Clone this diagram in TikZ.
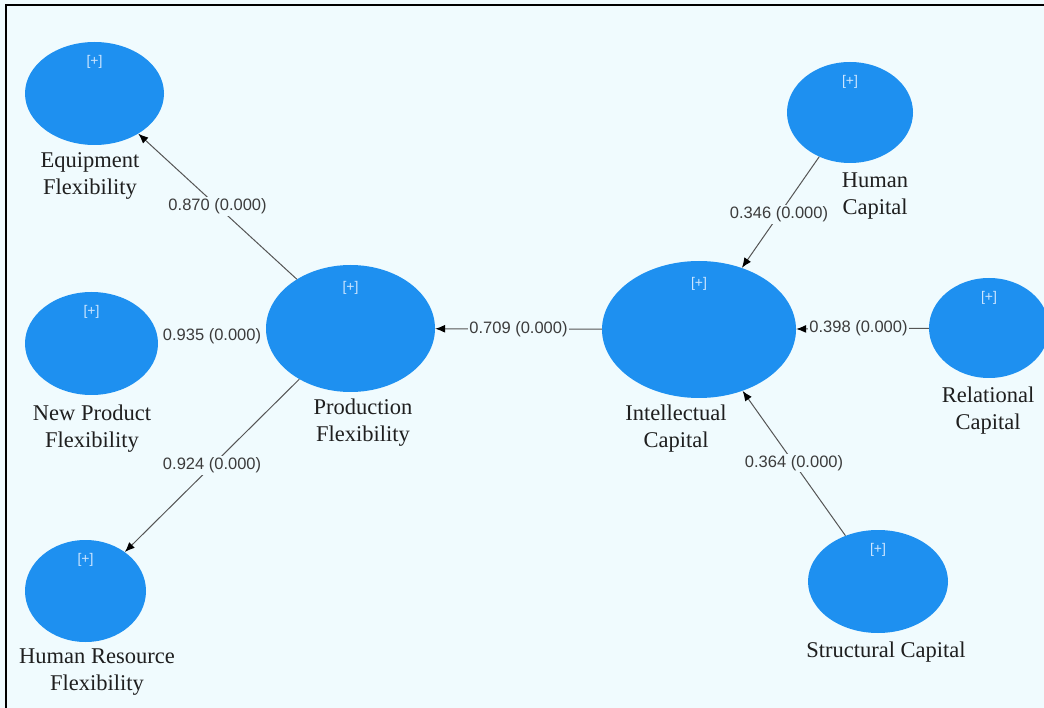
\documentclass[tikz,border=0pt]{standalone}
\usepackage{fontspec}
\setmainfont{Liberation Serif}
\newfontfamily\numfont{Liberation Sans}
\usetikzlibrary{shapes.geometric,arrows.meta}
\definecolor{bgc}{RGB}{240,251,254}
\definecolor{bluec}{RGB}{30,144,240}
\definecolor{linec}{RGB}{85,85,85}
\definecolor{numc}{RGB}{60,60,60}
\definecolor{plusc}{RGB}{205,230,255}
\tikzset{
  lv/.style={ellipse, fill=bluec, draw=none, inner sep=0pt},
  plustext/.style={font=\numfont\fontsize{14}{16}\selectfont, text=plusc, inner sep=0pt},
  lname/.style={align=center, font=\fontsize{22.5}{27}\selectfont, text=black!88, inner sep=0pt},
  path/.style={draw=linec, line width=1pt, -{Latex[length=10pt,width=8pt,color=black]}},
  coef/.style={fill=bgc, font=\numfont\fontsize{16.5}{19}\selectfont, text=numc, inner sep=1.5pt}
}
\begin{document}
\begin{tikzpicture}[x=1pt,y=-1pt]
\useasboundingbox (0,0) rectangle (1044,708);
\fill[bgc] (0,0) rectangle (1044,708);
% latent variables
\node[lv, minimum width=139pt, minimum height=103pt] (equip) at (94.5,93.5) {};
\node[lv, minimum width=133pt, minimum height=103pt] (newp) at (91.5,343.5) {};
\node[lv, minimum width=121pt, minimum height=102pt] (hrf) at (85.5,591) {};
\node[lv, minimum width=169pt, minimum height=127pt] (prod) at (350.5,328.5) {};
\node[lv, minimum width=194pt, minimum height=137pt] (ic) at (699,329.5) {};
\node[lv, minimum width=126pt, minimum height=101pt] (hc) at (850,112.5) {};
\node[lv, minimum width=120pt, minimum height=100pt] (rc) at (989,328) {};
\node[lv, minimum width=140pt, minimum height=103pt] (sc) at (878,581.5) {};
% [+] markers
\foreach \n in {equip,newp,hrf,hc,rc,sc}{
  \node[plustext] (plus-\n) at ([yshift=-20pt]\n.north) {[+]};
}
\foreach \n in {prod,ic}{
  \node[plustext] (plus-\n) at ([yshift=-23pt]\n.north) {[+]};
}
% names
\node[lname] (t-equip) at (90,175.5) {Equipment\\Flexibility};
\node[lname] (t-newp) at (92,428.5) {New Product\\Flexibility};
\node[lname] (t-hrf) at (97,672.5) {Human Resource\\Flexibility};
\node[lname] (t-prod) at (363,423) {Production\\Flexibility};
\node[lname] (t-ic) at (676,429) {Intellectual\\Capital};
\node[lname] (t-hc) at (875,196.5) {Human\\Capital};
\node[lname] (t-rc) at (988,410.5) {Relational\\Capital};
\node[lname] (t-sc) at (886,652) {Structural Capital};
% paths
\draw[path] (prod) -- (equip) node[coef, pos=0.5] {0.870 (0.000)};
\draw[path] (prod) -- (newp) node[coef, pos=0.5, inner xsep=5pt] {0.935 (0.000)};
\draw[path] (prod) -- (hrf) node[coef, pos=0.5] {0.924 (0.000)};
\draw[path] (ic) -- (prod) node[coef, pos=0.5] {0.709 (0.000)};
\draw[path] (hc) -- (ic) node[coef, pos=0.52] {0.346 (0.000)};
\draw[path] (rc) -- (ic) node[coef, pos=0.53] {0.398 (0.000)};
\draw[path] (sc) -- (ic) node[coef, pos=0.5] {0.364 (0.000)};
% frame
\draw[black, line width=2pt] (6,708) -- (6,5) -- (1044,5);
\end{tikzpicture}
\end{document}
